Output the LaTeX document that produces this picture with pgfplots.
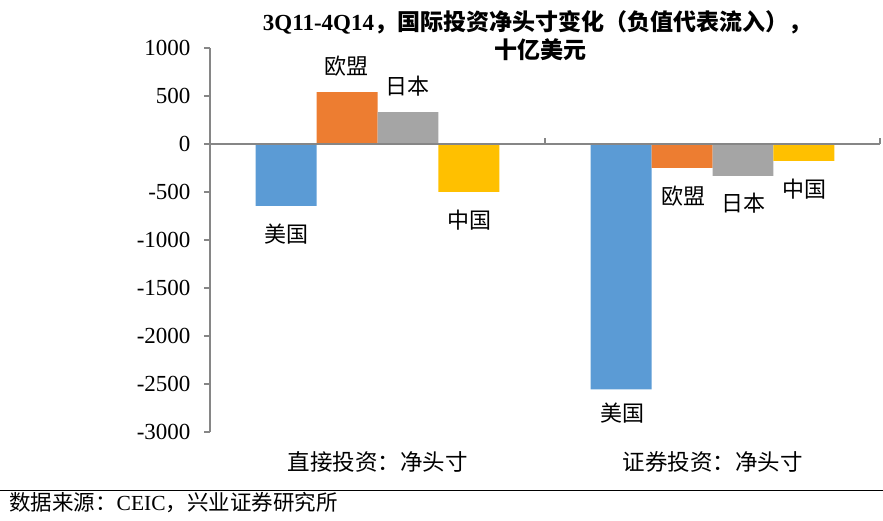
\documentclass[border=0pt]{standalone}
\usepackage{pgfplots}
\pgfplotsset{compat=1.18}
\usepackage{fontspec}
\setmainfont{Liberation Serif}
\newfontfamily\cjk{Noto Sans CJK SC}
\definecolor{cblue}{HTML}{5B9BD5}
\definecolor{corange}{HTML}{ED7D31}
\definecolor{cgray}{HTML}{A5A5A5}
\definecolor{cyellow}{HTML}{FFC000}
\definecolor{axgray}{HTML}{868686}
\begin{document}
\begin{tikzpicture}[x=1pt,y=1pt]
\useasboundingbox (0,0) rectangle (883,521);
\begin{axis}[
  at={(210pt,89pt)}, anchor=south west,
  width=670pt, height=384pt, scale only axis,
  xmin=-0.5, xmax=1.5, ymin=-3000, ymax=1000,
  axis x line=none, axis y line=left,
  axis line style={axgray, line width=1.2pt, -},
  ytick={-3000,-2500,...,1000},
  yticklabel style={font=\fontsize{23}{23}\selectfont, xshift=-10pt, /pgf/number format/.cd, 1000 sep={}, assume math mode=true},
  tick style={axgray, line width=1.2pt},
  tick align=outside, major tick length=6pt,
  ybar=0pt, bar width=0.182, clip=false,
]
\addplot[fill=cblue, draw=none, bar shift=-0.273] coordinates {(0,-644) (1,-2555)};
\addplot[fill=corange, draw=none, bar shift=-0.091] coordinates {(0,540) (1,-250)};
\addplot[fill=cgray, draw=none, bar shift=0.091] coordinates {(0,332) (1,-332)};
\addplot[fill=cyellow, draw=none, bar shift=0.273] coordinates {(0,-498) (1,-177)};
\draw[axgray, line width=1.2pt] (axis cs:-0.5,0) -- (axis cs:1.5,0);
\draw[axgray, line width=1.2pt] (axis cs:0.5,0) -- ([yshift=6pt]axis cs:0.5,0);
\draw[axgray, line width=1.2pt] (axis cs:1.5,0) -- ([yshift=6pt]axis cs:1.5,0);
\begin{scope}[every node/.style={font=\cjk\fontsize{22}{22}\selectfont, inner sep=0pt}]
\node at (axis cs:-0.273,-935) {美国};
\node at (axis cs:-0.094,810) {欧盟};
\node at (axis cs:0.091,602) {日本};
\node at (axis cs:0.276,-789) {中国};
\node at (axis cs:0.730,-2804) {美国};
\node at (axis cs:0.912,-540) {欧盟};
\node at (axis cs:1.094,-613) {日本};
\node at (axis cs:1.276,-467) {中国};
\end{scope}
\node[font=\cjk\fontsize{22.5}{22.5}\selectfont, inner sep=0pt] at (axis cs:0,-3000) [yshift=-30pt] {直接投资：净头寸};
\node[font=\cjk\fontsize{22.5}{22.5}\selectfont, inner sep=0pt] at (axis cs:1,-3000) [yshift=-30pt] {证券投资：净头寸};
\end{axis}
\node[inner sep=0pt] at (537,499) {\fontsize{23}{23}\selectfont\bfseries 3Q11-4Q14{\cjk ，国际投资净头寸变化（负值代表流入），}};
\node[inner sep=0pt] at (540,471) {\cjk\bfseries\fontsize{23}{23}\selectfont 十亿美元};
\draw[black, line width=0.8pt] (0,31) -- (883,31);
\node[anchor=west, inner sep=0pt] at (9,18) {\fontsize{21.5}{21.5}\selectfont{\cjk 数据来源：}CEIC{\cjk ，兴业证券研究所}};
\end{tikzpicture}
\end{document}
